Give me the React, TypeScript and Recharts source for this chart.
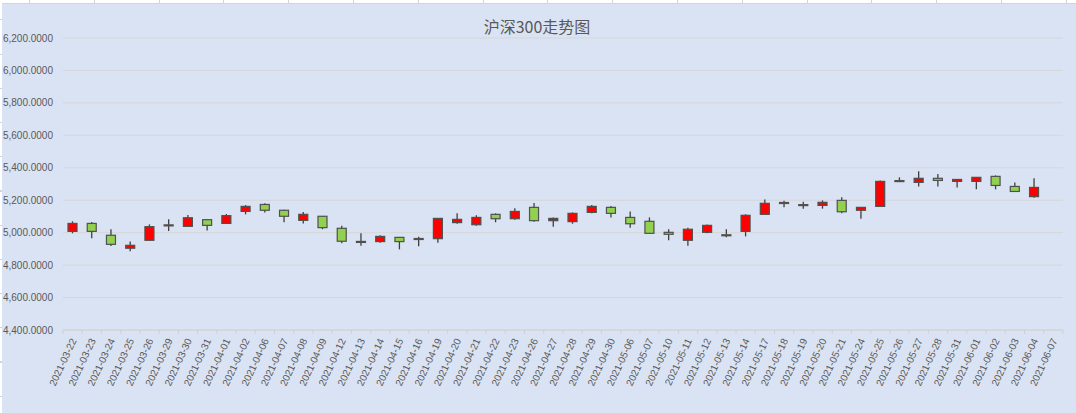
import React from "react";
import { ComposedChart, Bar, XAxis, YAxis, CartesianGrid } from "recharts";

const dates = [
  "2021-03-22", "2021-03-23", "2021-03-24", "2021-03-25", "2021-03-26", "2021-03-29",
  "2021-03-30", "2021-03-31", "2021-04-01", "2021-04-02", "2021-04-06", "2021-04-07",
  "2021-04-08", "2021-04-09", "2021-04-12", "2021-04-13", "2021-04-14", "2021-04-15",
  "2021-04-16", "2021-04-19", "2021-04-20", "2021-04-21", "2021-04-22", "2021-04-23",
  "2021-04-26", "2021-04-27", "2021-04-28", "2021-04-29", "2021-04-30", "2021-05-06",
  "2021-05-07", "2021-05-10", "2021-05-11", "2021-05-12", "2021-05-13", "2021-05-14",
  "2021-05-17", "2021-05-18", "2021-05-19", "2021-05-20", "2021-05-21", "2021-05-24",
  "2021-05-25", "2021-05-26", "2021-05-27", "2021-05-28", "2021-05-31", "2021-06-01",
  "2021-06-02", "2021-06-03", "2021-06-04", "2021-06-07",
];

const opens = [
  5008, 5057, 4984, 4904, 4953, 5045, 5039, 5080, 5057, 5131, 5174, 5138, 5076,
  5101, 5027, 4946, 4945, 4971, 4962, 4963, 5062, 5049, 5113, 5086, 5156, 5074,
  5068, 5125, 5156, 5094, 5070, 5002, 4953, 5002, 4987, 5008, 5113, 5184, 5173,
  5168, 5199, 5138, 5162, 5319, 5310, 5335, 5316, 5316, 5347, 5285, 5222, null,
];
const highs = [
  5070, 5066, 5021, 4945, 5051, 5082, 5109, 5084, 5115, 5170, 5181, 5142, 5127,
  5101, 5043, 4996, 4984, 4971, 4975, 5088, 5119, 5107, 5119, 5150, 5183, 5094,
  5125, 5170, 5164, 5131, 5094, 5021, 5031, 5051, 5021, 5113, 5205, 5197, 5191,
  5199, 5218, 5156, 5322, 5341, 5378, 5361, 5328, 5341, 5353, 5310, 5335, null,
];
const lows = [
  4996, 4965, 4918, 4885, 4953, 5010, 5035, 5014, 5057, 5113, 5125, 5064, 5057,
  5021, 4934, 4920, 4938, 4897, 4916, 4938, 5055, 5043, 5064, 5080, 5068, 5037,
  5055, 5119, 5094, 5031, 4996, 4953, 4920, 4996, 4971, 4977, 5113, 5156, 5148,
  5148, 5119, 5086, 5162, 5312, 5285, 5285, 5279, 5267, 5267, 5254, 5216, null,
];
const closes = [
  5057, 5008, 4928, 4922, 5037, 5048, 5092, 5045, 5105, 5162, 5138, 5101, 5113,
  5031, 4947, 4944, 4977, 4945, 4964, 5088, 5082, 5094, 5086, 5131, 5074, 5088,
  5119, 5162, 5119, 5055, 4996, 4990, 5021, 5045, 4985, 5107, 5181, 5186, 5171,
  5187, 5129, 5156, 5316, 5321, 5335, 5322, 5328, 5341, 5291, 5254, 5279, null,
];

const yTicks = [4400, 4600, 4800, 5000, 5200, 5400, 5600, 5800, 6000, 6200];

const data = dates.map((date, i) => ({
  date,
  open: opens[i],
  high: highs[i],
  low: lows[i],
  close: closes[i],
}));

const PLOT_WIDTH = 1000;
const band = PLOT_WIDTH / dates.length;

function Candle(props: any) {
  const { x, y, width, height, payload } = props;
  if (!payload || payload.open == null) return null;
  const { open, high, low, close } = payload;
  const top = Math.min(y, y + height);
  const h = Math.abs(height);
  const ratio = h / (high - low);
  const yOf = (v: number) => top + (high - v) * ratio;
  const cx = x + width / 2;
  const bodyTop = yOf(Math.max(open, close));
  const bodyH = Math.max(Math.abs(open - close) * ratio, 1);
  const up = close >= open;
  return (
    <g>
      <line x1={cx} x2={cx} y1={top} y2={top + h} stroke="#404040" strokeWidth={1.3} />
      <rect
        x={x}
        y={bodyTop}
        width={width}
        height={bodyH}
        fill={up ? "#FF0000" : "#92D050"}
        stroke="#505050"
        strokeWidth={1.2}
      />
    </g>
  );
}

function XTick(props: any) {
  const { x, y, payload, index } = props;
  const axisY = y - 5;
  const last = index === dates.length - 1;
  return (
    <g>
      <line x1={x - band / 2} x2={x - band / 2} y1={axisY} y2={axisY + 4} stroke="#D0D0D0" />
      {last && (
        <line x1={x + band / 2} x2={x + band / 2} y1={axisY} y2={axisY + 4} stroke="#D0D0D0" />
      )}
      <text
        x={x + 1}
        y={axisY + 9}
        transform={`rotate(-65 ${x + 1} ${axisY + 9})`}
        textAnchor="end"
        dominantBaseline="central"
        fontSize={10}
        fontFamily="Liberation Sans, Arial, sans-serif"
        fill="#595959"
      >
        {payload.value}
      </text>
    </g>
  );
}

const fmt = (v: number) =>
  v.toLocaleString("en-US", { minimumFractionDigits: 4, maximumFractionDigits: 4 });

export default function App() {
  return (
    <div
      style={{
        position: "absolute",
        left: 0,
        top: 0,
        width: 1076,
        height: 413,
        background: "#FFFFFF",
        overflow: "hidden",
      }}
    >
      {/* sheet column / row lines around the chart */}
      <div
        style={{
          position: "absolute",
          left: 0,
          top: 0,
          width: 1076,
          height: 3,
          background:
            "repeating-linear-gradient(to right, transparent 0px, transparent 29px, #D4D4D4 29px, #D4D4D4 30px, transparent 30px, transparent 64.8px)",
        }}
      />
      <div
        style={{
          position: "absolute",
          left: 0,
          top: 3,
          width: 2,
          height: 410,
          background:
            "repeating-linear-gradient(to bottom, transparent 0px, transparent 16.5px, #D4D4D4 16.5px, #D4D4D4 17.5px, transparent 17.5px, transparent 34.2px)",
        }}
      />
      <div
        style={{
          position: "absolute",
          left: 2,
          top: 3,
          width: 1074,
          height: 410,
          background: "#DAE3F3",
          borderTop: "1px solid #D4D4D4",
          boxSizing: "border-box",
        }}
      >
        <div
          style={{
            position: "absolute",
            left: 0,
            top: 12,
            width: 1074,
            textAlign: "center",
            fontSize: 16,
            color: "#595959",
            fontFamily: "'Noto Sans CJK SC', sans-serif",
            lineHeight: "20px",
          }}
        >
          <span style={{ position: "relative", left: -2 }}>沪深300走势图</span>
        </div>
        <ComposedChart
          width={1074}
          height={409}
          data={data}
          margin={{ top: 34, right: 13, bottom: 3, left: 3 }}
          barCategoryGap={0}
        >
          <CartesianGrid horizontal vertical={false} stroke="#D6D6D6" />
          <XAxis
            dataKey="date"
            interval={0}
            height={80}
            tickLine={false}
            tickSize={3}
            tickMargin={2}
            axisLine={{ stroke: "#D0D0D0" }}
            tick={<XTick />}
          />
          <YAxis
            width={58}
            domain={[4400, 6200]}
            ticks={yTicks}
            interval={0}
            axisLine={false}
            tickLine={false}
            tickMargin={4}
            tickFormatter={fmt}
            tick={{ fontSize: 10, fill: "#595959", fontFamily: "Liberation Sans, Arial, sans-serif" }}
          />
          <Bar
            dataKey={(d: any) => (d.open == null ? null : [d.low, d.high])}
            barSize={9}
            shape={<Candle />}
            isAnimationActive={false}
          />
        </ComposedChart>
      </div>
    </div>
  );
}
